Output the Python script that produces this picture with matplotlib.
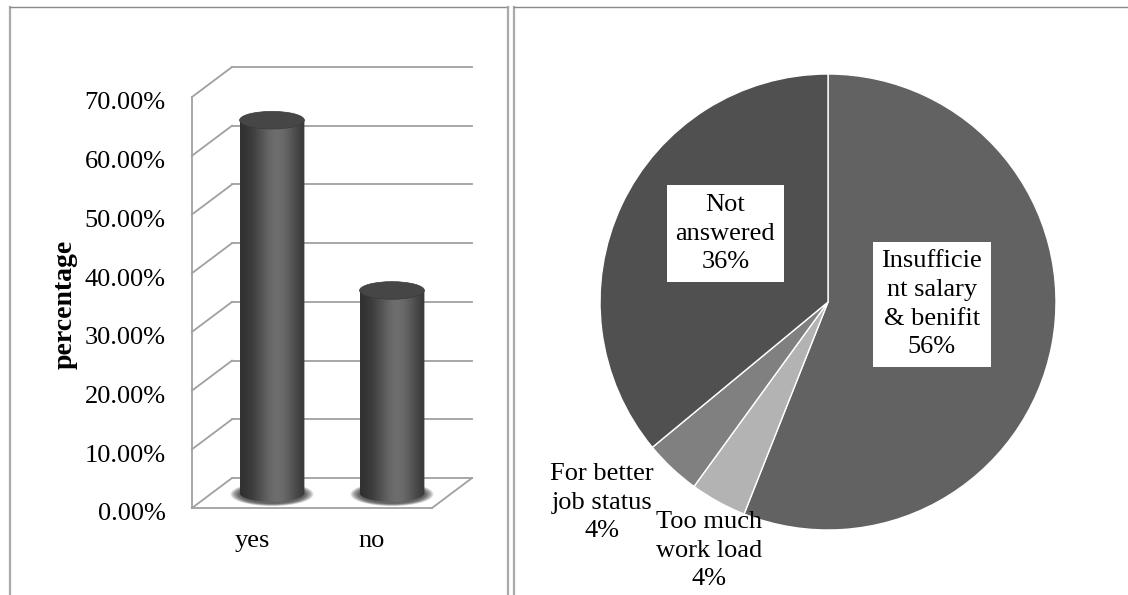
import numpy as np
import matplotlib
matplotlib.use("Agg")
import matplotlib.pyplot as plt
import matplotlib.transforms as mtrans
from matplotlib.patches import Ellipse, Polygon
from matplotlib.lines import Line2D

plt.rcParams['font.family'] = ['Liberation Serif', 'DejaVu Serif']

# data
answers = ['yes', 'no']
answer_pct = [63.5, 34.5]
reasons = ['Insufficie\nnt salary\n& benifit', 'Too much\nwork load',
           'For better\njob status', 'Not\nanswered']
reason_pct = [56, 4, 4, 36]
reason_colors = ['#626262', '#b3b3b3', '#808080', '#505050']
yticks = np.arange(0, 71, 10)

W, H = 1128, 595
fig = plt.figure(figsize=(W / 100, H / 100), dpi=100)
FS = 19


def px(x0, y0, x1, y1):
    # pixel box (top-left origin) -> figure fraction rect
    return [x0 / W, 1 - y1 / H, (x1 - x0) / W, (y1 - y0) / H]


# panel frames
def fline(xs, ys, **kw):
    fig.add_artist(Line2D([x / W for x in xs], [1 - y / H for y in ys],
                          transform=fig.transFigure, **kw))

fline([10, 10], [7, 595], color='#aaaaaa', lw=1.6)
fline([10, 508], [7, 7], color='#8a8a8a', lw=1.0)
fline([508, 508], [7, 595], color='#aaaaaa', lw=1.6)
fline([514, 514], [7, 595], color='#aaaaaa', lw=1.6)
fline([514, 1128], [7, 7], color='#8a8a8a', lw=1.0)

# ---- left: 3D cylinder bars ----
ax = fig.add_axes(px(192, 60, 480, 508))
dx, dy = 0.333, 5.1      # depth offset
grid = '#a0a0a0'
glw = 1.3
for v in yticks:
    ax.plot([-0.5, -0.5 + dx], [v, v + dy], color=grid, lw=glw, clip_on=False)
    ax.plot([-0.5 + dx, 1.5 + dx], [v + dy, v + dy], color=grid, lw=glw, clip_on=False)
ax.plot([-0.5, -0.5], [0, 70], color=grid, lw=glw, clip_on=False)
ax.plot([-0.5, 1.5], [0, 0], color=grid, lw=glw, clip_on=False)
ax.plot([1.5, 1.5 + dx], [0, dy], color=grid, lw=glw, clip_on=False)

bw = 0.54
eh = 3.0
t = np.linspace(0, 1, 200)
shade = 0.18 + 0.25 * np.exp(-((t - 0.57) / 0.33) ** 2)
for i, v in enumerate(answer_pct):
    cx = i + dx / 2
    base = dy / 2
    top = base + v
    x0, x1 = cx - bw / 2, cx + bw / 2
    # shadow on the floor
    for k in range(7):
        f = 1.28 - k * 0.04
        ax.add_patch(Ellipse((cx, base - 0.2), bw * f, eh * f * 1.05,
                             color='black', alpha=0.12, lw=0, zorder=2))
    th = np.linspace(0, np.pi, 60)
    bottom = np.column_stack([cx + bw / 2 * np.cos(th), base - eh / 2 * np.sin(th)])
    verts = np.vstack([[[x0, top], [x1, top]], bottom])
    clip = Polygon(verts, closed=True, transform=ax.transData, fc='none', ec='none')
    ax.add_patch(clip)
    im = ax.imshow(shade[None, :], cmap='gray', vmin=0, vmax=1, aspect='auto',
                   extent=[x0, x1, base - eh, top], zorder=3, interpolation='bilinear')
    im.set_clip_path(clip)
    ax.add_patch(Ellipse((cx, top), bw, eh, fc='#464646', ec='#3a3a3a', lw=0.5, zorder=4))

ax.set_xlim(-0.5, 1.9)
ax.set_ylim(0, 76.3)
for s in ax.spines.values():
    s.set_visible(False)
ax.set_yticks(yticks)
ax.set_yticklabels([f'{v:.2f}%' for v in yticks])
ax.set_xticks(range(len(answers)))
ax.set_xticklabels(answers)
ax.tick_params(axis='y', length=0, pad=19, labelsize=FS)
ax.tick_params(axis='x', length=0, pad=16, labelsize=FS)
shift = mtrans.ScaledTranslation(0, -4 / 100, fig.dpi_scale_trans)
for lab in ax.get_yticklabels():
    lab.set_transform(lab.get_transform() + shift)
ax.patch.set_alpha(0)
fig.text(65 / W, 1 - 304 / H, 'percentage', rotation=90, fontsize=20,
         fontweight='bold', ha='center', va='center')

# ---- right: pie ----
pax = fig.add_axes(px(600, 74, 1056, 530))
pax.pie(reason_pct, colors=reason_colors, startangle=90, counterclock=False,
        radius=1, wedgeprops=dict(edgecolor='white', linewidth=1.0))
pax.set_xlim(-1, 1)
pax.set_ylim(-1, 1)
pax.set_aspect('auto')
pax.axis('off')

box = dict(facecolor='white', edgecolor='none', pad=6)
labels = [f'{r}\n{p}%' for r, p in zip(reasons, reason_pct)]
pos = [(0.455, -0.01, box), (-0.52, -1.09, None), (-0.99, -0.88, None), (-0.45, 0.30, box)]
for lab, (x, y, b) in zip(labels, pos):
    pax.text(x, y, lab, ha='center', va='center', fontsize=FS, bbox=b,
             linespacing=1.4, clip_on=False)

fig.savefig('out.png', dpi=100)
